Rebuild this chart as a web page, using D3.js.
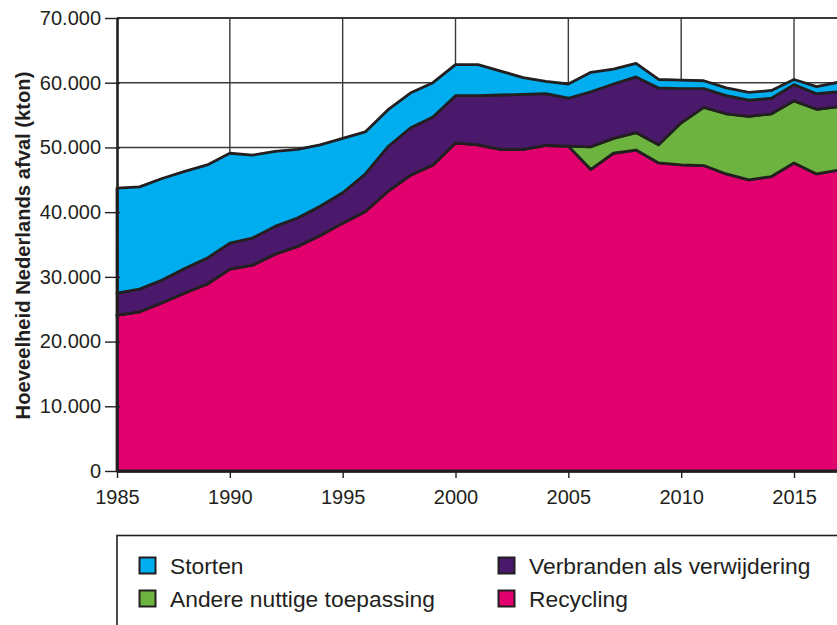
<!DOCTYPE html>
<html>
<head>
<meta charset="utf-8">
<script src="https://cdn.jsdelivr.net/npm/d3@7"></script>
<style>
  body { margin: 0; background: #fff; }
  text { font-family: "Liberation Sans", Arial, sans-serif; fill: #231f20; }
</style>
</head>
<body>
<div id="plot"></div>
<script>
// Data (kton)
const years = [1985, 1986, 1987, 1988, 1989, 1990, 1991, 1992, 1993, 1994, 1995, 1996,
  1997, 1998, 1999, 2000, 2001, 2002, 2003, 2004, 2005, 2006, 2007, 2008, 2009, 2010,
  2011, 2012, 2013, 2014, 2015, 2016, 2017];

const recycling = [24100, 24600, 26000, 27500, 28900, 31200, 31800, 33500, 34700, 36400, 38300, 40100,
  43200, 45700, 47300, 50700, 50400, 49700, 49700, 50300, 50200, 46600, 49100, 49600, 47600, 47300,
  47200, 45900, 45000, 45500, 47600, 45900, 46500];

const andere = [0, 0, 0, 0, 0, 0, 0, 0, 0, 0, 0, 0,
  0, 0, 0, 0, 0, 0, 0, 0, 0, 3500, 2300, 2700, 2800, 6500,
  9000, 9300, 9800, 9700, 9600, 10000, 9800];

const verbranden = [3400, 3500, 3500, 3800, 4000, 4000, 4200, 4300, 4400, 4500, 4700, 5800,
  6900, 7300, 7400, 7300, 7600, 8400, 8500, 8000, 7400, 8500, 8400, 8600, 8800, 5300,
  2900, 2800, 2500, 2400, 2500, 2400, 2300];

const storten = [16200, 15800, 15700, 15000, 14400, 13900, 12800, 11600, 10600, 9500, 8400, 6500,
  5700, 5400, 5300, 4800, 4800, 3700, 2600, 1900, 2200, 3000, 2300, 2100, 1300, 1300,
  1200, 1200, 1200, 1200, 800, 1100, 1500];

const seriesKeys = ["Recycling", "Andere nuttige toepassing", "Verbranden als verwijdering", "Storten"];
const seriesColors = ["#e2006f", "#6cb33f", "#4b196b", "#00aeef"];

const yTicks = [0, 10000, 20000, 30000, 40000, 50000, 60000, 70000];
const yTickLabels = ["0", "10.000", "20.000", "30.000", "40.000", "50.000", "60.000", "70.000"];
const xTicks = [1985, 1990, 1995, 2000, 2005, 2010, 2015];

// Legend layout: two columns, two rows
const legendOrder = ["Storten", "Andere nuttige toepassing", "Verbranden als verwijdering", "Recycling"];

// Build rows for the stack
const rows = years.map((yr, i) => ({
  year: yr,
  "Recycling": recycling[i],
  "Andere nuttige toepassing": andere[i],
  "Verbranden als verwijdering": verbranden[i],
  "Storten": storten[i]
}));

const W = 837, H = 625;
const margin = { top: 18, left: 117, bottom: 154 };
const plotH = H - margin.top - margin.bottom;

const svg = d3.select("#plot")
  .append("svg")
    .attr("width", W)
    .attr("height", H);

// Scales (plot runs to 2017, a bit past the right edge)
const x = d3.scaleLinear()
  .domain([1985, 2017])
  .range([margin.left, margin.left + 32 * 22.567]);

const y = d3.scaleLinear()
  .domain([0, 70000])
  .range([margin.top + plotH, margin.top]);

const color = d3.scaleOrdinal().domain(seriesKeys).range(seriesColors);

// Grid
const grid = svg.append("g").attr("class", "grid");
grid.selectAll(".hgrid")
  .data(yTicks.slice(1))
  .enter().append("line")
    .attr("x1", x(1985)).attr("x2", W + 10)
    .attr("y1", d => y(d)).attr("y2", d => y(d))
    .attr("stroke", "#3a3a3a")
    .attr("stroke-width", d => d === 70000 ? 2.2 : 1.4);
grid.selectAll(".vgrid")
  .data(xTicks.slice(1))
  .enter().append("line")
    .attr("x1", d => x(d)).attr("x2", d => x(d))
    .attr("y1", y(70000)).attr("y2", y(0))
    .attr("stroke", "#3a3a3a")
    .attr("stroke-width", 1.4);

// Stacked areas
const stacked = d3.stack().keys(seriesKeys)(rows);

const area = d3.area()
  .x(d => x(d.data.year))
  .y0(d => y(d[0]))
  .y1(d => y(d[1]));

svg.append("g")
  .selectAll("path")
  .data(stacked)
  .enter().append("path")
    .attr("d", area)
    .attr("fill", d => color(d.key))
    .attr("stroke", "#231f20")
    .attr("stroke-width", 2.8)
    .attr("stroke-linejoin", "round");

// Axes
const yAxis = svg.append("g")
  .attr("transform", `translate(${margin.left},0)`)
  .call(d3.axisLeft(y)
    .tickValues(yTicks)
    .tickFormat((d, i) => yTickLabels[i])
    .tickSize(12)
    .tickPadding(4)
    .tickSizeOuter(0));
yAxis.select(".domain").attr("stroke", "#231f20").attr("stroke-width", 2.6);
yAxis.selectAll(".tick line").attr("stroke", "#231f20").attr("stroke-width", 1.4).attr("x2", -12).attr("x1", 3);
yAxis.selectAll(".tick text")
  .attr("font-size", 20)
  .attr("font-family", "'Liberation Sans', Arial, sans-serif")
  .attr("fill", "#231f20");

const xAxis = svg.append("g")
  .attr("transform", `translate(0,${y(0)})`)
  .call(d3.axisBottom(x)
    .tickValues(xTicks)
    .tickFormat(d3.format("d"))
    .tickSize(7)
    .tickPadding(12)
    .tickSizeOuter(0));
xAxis.select(".domain").attr("stroke", "#231f20").attr("stroke-width", 2.6);
xAxis.selectAll(".tick line").attr("stroke", "#231f20").attr("stroke-width", 1.4);
xAxis.selectAll(".tick text")
  .attr("font-size", 20)
  .attr("font-family", "'Liberation Sans', Arial, sans-serif")
  .attr("fill", "#231f20");

// Axis title
svg.append("text")
  .attr("transform", `translate(29.5,${(y(0) + y(70000)) / 2 + 1}) rotate(-90)`)
  .attr("text-anchor", "middle")
  .attr("font-size", 20.2)
  .attr("font-weight", "bold")
  .text("Hoeveelheid Nederlands afval (kton)");

// Legend
const legend = svg.append("g").attr("class", "legend");
legend.append("rect")
  .attr("x", margin.left)
  .attr("y", 535.5)
  .attr("width", 800)
  .attr("height", 200)
  .attr("fill", "none")
  .attr("stroke", "#231f20")
  .attr("stroke-width", 1.6);

const legendItems = legend.selectAll(".item")
  .data(legendOrder)
  .enter().append("g")
    .attr("class", "item")
    .attr("transform", (d, i) => `translate(${i < 2 ? 139 : 498},${i % 2 === 0 ? 557 : 590})`);

legendItems.append("rect")
  .attr("x", 0.5).attr("y", 0.5)
  .attr("width", 16).attr("height", 16)
  .attr("fill", d => color(d))
  .attr("stroke", "#231f20")
  .attr("stroke-width", 2);

legendItems.append("text")
  .attr("x", 31)
  .attr("y", 16.5)
  .attr("font-size", 22.8)
  .text(d => d);
</script>
</body>
</html>
